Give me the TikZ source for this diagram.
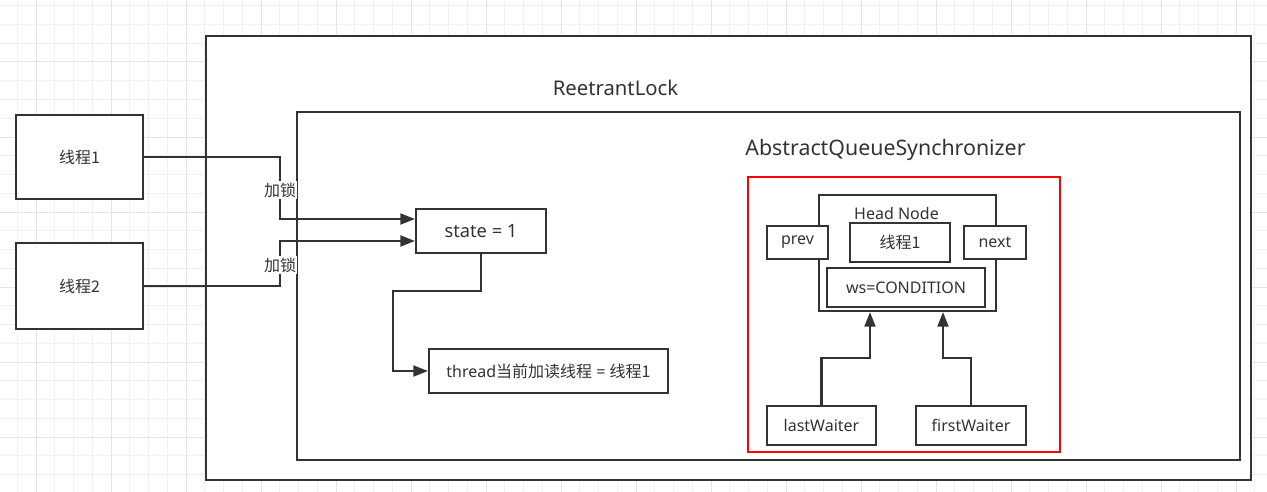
\documentclass[tikz,border=0pt]{standalone}
\usepackage{fontspec}
\setmainfont{Noto Sans}
\newfontfamily\cjk{Noto Sans CJK SC}
\usetikzlibrary{arrows.meta}
\definecolor{ink}{HTML}{333333}
\definecolor{gridminor}{HTML}{F1F1F1}
\definecolor{gridmajor}{HTML}{E4E4E4}
\definecolor{redline}{HTML}{FF0000}
\tikzset{
  box/.style={draw=ink, line width=1.6pt, fill=white, inner sep=0pt, text=ink, font=\fontsize{12pt}{14pt}\selectfont},
  frame/.style={draw=ink, line width=1.6pt, fill=white, inner sep=0pt},
  redframe/.style={draw=redline, line width=1.5pt, inner sep=0pt},
  title/.style={text=ink, inner sep=0pt, font=\fontsize{15.2pt}{18pt}\selectfont},
  arr/.style={draw=ink, line width=1.6pt, -{Triangle[length=11pt,width=8.25pt]}},
  lbl/.style={fill=white, text=ink, inner xsep=0.5pt, inner ysep=1pt, font=\fontsize{12pt}{14pt}\selectfont\cjk},
}
\begin{document}
\begin{tikzpicture}[x=0.75pt, y=-0.75pt]
\useasboundingbox (0,0) rectangle (1267,492);
\fill[white] (0,0) rectangle (1267,492);
% grid
\foreach \i in {-1,...,65} {
  \draw[gridminor, line width=0.75pt] ({36+18.75*\i},0) -- ({36+18.75*\i},492);
}
\foreach \j in {-3,...,22} {
  \draw[gridminor, line width=0.75pt] (0,{62+18.75*\j}) -- (1267,{62+18.75*\j});
}
\foreach \i in {0,...,16} {
  \draw[gridmajor, line width=0.75pt] ({36+75*\i},0) -- ({36+75*\i},492);
}
\foreach \j in {0,...,5} {
  \draw[gridmajor, line width=0.75pt] (0,{62+75*\j}) -- (1267,{62+75*\j});
}
% containers
\node[frame, minimum width=783.75pt, minimum height=333pt] (outer) at (728.5,258) {};
\node[title] (outerlbl) at (615.5,88) {ReetrantLock};
\node[frame, minimum width=707.25pt, minimum height=261pt] (inner) at (768.5,286) {};
\node[title, font=\fontsize{16pt}{19pt}\selectfont] (innerlbl) at (885.5,150) {AbstractQueueSynchronizer};
\node[redframe, minimum width=234pt, minimum height=206.25pt] (aqs) at (904,314.5) {};
% threads
\node[box, minimum width=95.25pt, minimum height=63pt] (t1) at (79.5,157) {\cjk 线程1};
\node[box, minimum width=95.25pt, minimum height=64.5pt] (t2) at (79.5,286) {\cjk 线程2};
% state and owner
\node[box, minimum width=97.5pt, minimum height=33pt, font=\fontsize{13.7pt}{16pt}\selectfont] (state) at (481,231) {state = 1};
\node[box, minimum width=179.25pt, minimum height=33pt] (owner) at (548.5,371) {thread{\cjk 当前加读线程} = {\cjk 线程1}};
% head node
\node[box, minimum width=132.75pt, minimum height=87pt] (head) at (907.5,253) {};
\node[title, font=\fontsize{12pt}{14pt}\selectfont] (headlbl) at (896.5,213) {Head Node};
\node[box, minimum width=45.75pt, minimum height=24.75pt] (prev) at (797.5,242.5) {prev};
\node[box, minimum width=75pt, minimum height=29.25pt] (ht) at (900,242.5) {\cjk 线程1};
\node[box, minimum width=46.5pt, minimum height=24.75pt] (next) at (995,242.5) {next};
\node[box, minimum width=118.5pt, minimum height=29.25pt] (ws) at (906,287.5) {ws=CONDITION};
\node[box, minimum width=81.75pt, minimum height=29.25pt] (lw) at (821.5,425.5) {lastWaiter};
\node[box, minimum width=82.5pt, minimum height=29.25pt] (fw) at (971,425.5) {firstWaiter};
% connectors
\coordinate (a1) at (280,219);
\coordinate (a2) at (280,241);
\draw[arr] (t1.east) -| (a1) -- (state.west |- a1);
\draw[arr] (t2.east) -| (a2) -- (state.west |- a2);
\node[lbl] (l1) at (280,190) {加锁};
\node[lbl] (l2) at (280,265) {加锁};
\coordinate (sa) at (393,291);
\draw[arr] (state.south) |- (sa) |- (owner.west);
\coordinate (ha1) at (870,358);
\coordinate (ha2) at (943,358);
\draw[arr] (lw.north) |- (ha1) -- (ha1 |- head.south);
\draw[arr] (fw.north) |- (ha2) -- (ha2 |- head.south);
\end{tikzpicture}
\end{document}
